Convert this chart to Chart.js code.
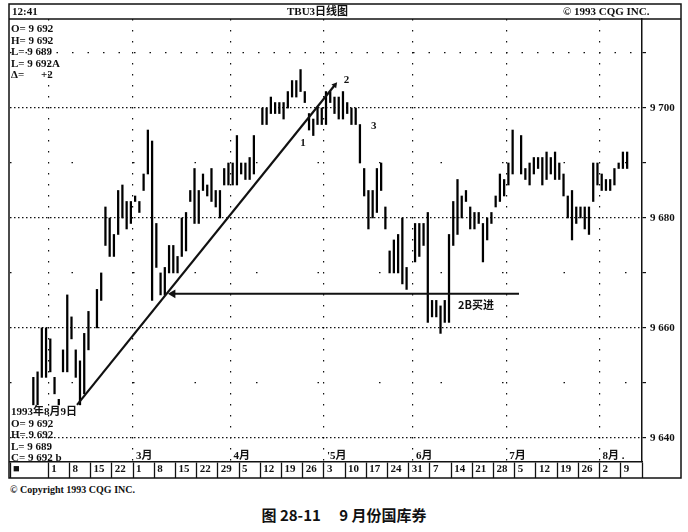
<!DOCTYPE html>
<html>
<head>
<meta charset="utf-8">
<script src="https://cdn.jsdelivr.net/npm/chart.js@4.4.0/dist/chart.umd.min.js"></script>
<style>
  body { margin: 0; background: #fff; }
  #wrap { position: relative; width: 688px; height: 532px; }
  #copy { position: absolute; left: 10px; top: 484px; font: bold 10px "Liberation Serif", serif; color: #111; }
  #cap { position: absolute; left: 0; width: 688px; top: 504px; text-align: center; font: bold 15px "Noto Sans CJK SC", sans-serif; color: #111; white-space: pre; }
</style>
</head>
<body>
<div id="wrap">
  <canvas id="chart" width="688" height="480"></canvas>
  <div id="copy">© Copyright 1993 CQG INC.</div>
  <div id="cap">图 28-11　 9 月份国库券</div>
</div>
<script>
// trading day index, 0 = 1993-02-01 (holidays left as gaps)
const days = [
  -4, -3, -2, -1, 0, 1, 2, 3, 4, 5, 6, 7, 8, 9,
  11, 12, 13, 14, 15, 16, 17, 18, 19, 20, 21, 22, 23, 24, 25, 26, 27, 28, 29,
  30, 31, 32, 33, 34, 35, 36, 37, 38, 39, 40, 41, 42, 43, 44, 45, 46, 47, 48,
  50, 51, 52, 53, 54, 55, 56, 57, 58, 59, 60, 61, 62, 63, 64, 65, 66, 67, 68, 69,
  70, 71, 72, 73, 74, 75, 76, 77, 78, 79, 80, 81, 82, 83, 84,
  86, 87, 88, 89, 90, 91, 92, 93, 94, 95, 96, 97, 98, 99, 100, 101, 102, 103, 104,
  105, 106, 107, 108, 109,
  111, 112, 113, 114, 115, 116, 117, 118, 119, 120, 121, 122, 123, 124, 125, 126,
  127, 128, 129, 130, 131, 132, 133, 134, 135, 136
];
const highs = [
  9651, 9652, 9660, 9660, 9658, 9651, 9647, 9656, 9666, 9662, 9656, 9654, 9659, 9663,
  9667, 9670, 9682, 9680, 9677, 9685, 9686, 9683, 9683, 9684, 9683, 9688, 9696, 9694, 9679, 9670, 9671, 9675, 9675,
  9673, 9680, 9681, 9685, 9689, 9685, 9688, 9686, 9689, 9685, 9685, 9689, 9690, 9690, 9695, 9690, 9690, 9691, 9695,
  9700, 9700, 9702, 9701, 9701, 9701, 9703, 9705, 9705, 9707, 9703, 9699, 9698, 9700, 9700, 9703, 9703, 9702, 9702, 9703,
  9701, 9700, 9700, 9697, 9689, 9685, 9685, 9689, 9690, 9682, 9674, 9676, 9677, 9680, 9671,
  9679, 9679, 9679, 9681, 9665, 9665, 9664, 9665, 9677, 9683, 9687, 9684, 9685, 9682, 9681, 9681, 9679, 9680, 9681,
  9684, 9688, 9687, 9690, 9696,
  9695, 9689, 9690, 9691, 9691, 9691, 9692, 9691, 9692, 9690, 9688, 9684, 9685, 9682, 9682, 9682,
  9682, 9690, 9690, 9688, 9687, 9687, 9689, 9690, 9692, 9692
];
const lows = [
  9646, 9646, 9651, 9651, 9652, 9648, 9646, 9652, 9652, 9658, 9651, 9646, 9648, 9656,
  9660, 9665, 9675, 9673, 9673, 9677, 9680, 9678, 9679, 9683, 9681, 9685, 9688, 9665, 9671, 9666, 9666, 9670, 9670,
  9670, 9673, 9674, 9683, 9679, 9679, 9685, 9684, 9683, 9682, 9680, 9686, 9686, 9686, 9686, 9688, 9687, 9687, 9688,
  9697, 9697, 9699, 9699, 9699, 9698, 9700, 9702, 9702, 9703, 9701, 9696, 9695, 9697, 9697, 9697, 9701, 9699, 9698, 9698,
  9699, 9697, 9697, 9690, 9684, 9678, 9680, 9681, 9685, 9678, 9670, 9670, 9670, 9668, 9667,
  9672, 9673, 9675, 9661, 9662, 9662, 9659, 9661, 9661, 9675, 9677, 9680, 9683, 9678, 9678, 9679, 9672, 9676, 9679,
  9682, 9683, 9684, 9686, 9688,
  9688, 9687, 9686, 9688, 9689, 9686, 9687, 9688, 9687, 9687, 9684, 9680, 9676, 9679, 9680, 9678,
  9677, 9683, 9686, 9685, 9685, 9685, 9686, 9689, 9689, 9689
];

// week boxes along the bottom
const weekTicks = [-9.5, -0.5, 4.5, 9.5, 14.5, 19.5, 24.5, 29.5, 34.5, 39.5, 44.5, 49.5, 54.5, 59.5,
  64.5, 69.5, 74.5, 79.5, 84.5, 89.5, 94.5, 99.5, 104.5, 109.5, 114.5, 119.5, 124.5, 129.5, 134.5, 139.5];
const weekLabels = ['■', '1', '8', '15', '22', '1', '8', '15', '22', '29', '5', '12', '19', '26',
  '3', '10', '17', '24', '31', '7', '14', '21', '28', '5', '12', '19', '26', '2', '9', ''];

// month separators and names
const monthTicks = [-0.5, 19.5, 42.5, 64.5, 85.5, 107.5, 129.5];
const monthLabels = ['', '3月', '4月', "'5月", '6月', '7月', '8月 .'];

const yTicks = [9640, 9650, 9660, 9670, 9680, 9690, 9700, 9710];

// trend line and 2B arrow
const trendX = [6.3, 67.1];
const trendY = [9646, 9704.2];
const arrowX = [28.9, 110.5];
const arrowY = [9666.2, 9666.2];

// chart notes
const noteText = ['1', '2', '3', '2B买进'];
const noteX = [58.9, 69.2, 75.6, 96.1];
const noteY = [9693.6, 9705.1, 9696.7, 9664.2];

const topInfo = ['O= 9 692', 'H= 9 692', 'L= 9 689', 'L= 9 692A'];
const bottomInfo = ['1993年8月9日', 'O= 9 692', 'H= 9 692', 'L= 9 689', 'C= 9 692 b'];

const INK = '#111';
const SERIF = '"Liberation Serif", "Noto Sans CJK SC", serif';

const fmt = v => String(v).replace(/(\d)(\d{3})$/, '$1 $2');

const textPlugin = {
  id: 'texts',
  afterDraw(chart) {
    const ctx = chart.ctx;
    const xs = chart.scales.x, ys = chart.scales.y;
    ctx.save();
    // frame + header line
    ctx.strokeStyle = INK;
    ctx.lineWidth = 1.5;
    ctx.strokeRect(9, 4, 672, 474);
    ctx.beginPath();
    ctx.moveTo(9, 19); ctx.lineTo(681, 19);
    ctx.stroke();

    ctx.fillStyle = INK;
    ctx.textBaseline = 'alphabetic';
    ctx.textAlign = 'left';
    ctx.font = 'bold 11px ' + SERIF;
    ctx.fillText('12:41', 12, 15);
    ctx.fillText('TBU3日线图', 287, 15);
    ctx.fillText('© 1993 CQG INC.', 563, 15);

    topInfo.forEach((t, k) => ctx.fillText(t, 11, 32 + k * 11.5));
    ctx.fillText('Δ=', 11, 78);
    ctx.fillText('+2', 41, 78);

    bottomInfo.forEach((t, k) => ctx.fillText(t, 11, 415 + k * 11.5));

    // month names
    monthLabels.forEach((t, k) => {
      if (t) ctx.fillText(t, xs.getPixelForValue(monthTicks[k]) + 3, 459);
    });

    // notes
    noteText.forEach((t, k) => {
      ctx.font = (t.length > 1 ? 'bold 11px "Noto Sans CJK SC", sans-serif' : 'bold 11px ' + SERIF);
      ctx.textBaseline = 'middle';
      ctx.fillText(t, xs.getPixelForValue(noteX[k]), ys.getPixelForValue(noteY[k]));
    });
    ctx.restore();
  }
};

new Chart(document.getElementById('chart'), {
  type: 'bar',
  data: {
    datasets: [
      {
        type: 'bar',
        data: days.map((d, k) => ({ x: d, y: [lows[k], highs[k]] })),
        backgroundColor: '#000',
        barThickness: 1.6,
        order: 3
      },
      {
        type: 'line',
        data: trendX.map((v, k) => ({ x: v, y: trendY[k] })),
        borderColor: INK,
        borderWidth: 2.2,
        pointStyle: 'triangle',
        pointRadius: [0, 3.5],
        rotation: 39,
        pointBackgroundColor: INK,
        pointBorderWidth: 0,
        order: 1
      },
      {
        type: 'line',
        data: arrowX.map((v, k) => ({ x: v, y: arrowY[k] })),
        borderColor: INK,
        borderWidth: 2,
        pointStyle: 'triangle',
        pointRadius: [5, 0],
        rotation: -90,
        pointBackgroundColor: INK,
        pointBorderWidth: 0,
        order: 1
      }
    ]
  },
  options: {
    responsive: false,
    animation: false,
    layout: { padding: { left: 10, top: 19, right: 7, bottom: 2 } },
    plugins: { legend: { display: false }, tooltip: { enabled: false } },
    scales: {
      xm: {
        type: 'linear',
        position: 'bottom',
        weight: 0,
        min: -9.5,
        max: 139.5,
        offset: false,
        afterBuildTicks: s => { s.ticks = monthTicks.map(v => ({ value: v })); },
        afterFit: s => { s.height = 0; },
        ticks: { display: false },
        grid: { color: INK, lineWidth: 1.2, drawTicks: false, offset: false },
        border: { display: false, dash: [1.5, 9.5] }
      },
      x: {
        type: 'linear',
        position: 'bottom',
        weight: 1,
        min: -9.5,
        max: 139.5,
        offset: false,
        afterBuildTicks: s => { s.ticks = weekTicks.map(v => ({ value: v })); },
        afterFit: s => { s.height = 16; },
        ticks: {
          autoSkip: false,
          maxRotation: 0,
          align: 'start',
          labelOffset: 3,
          padding: -15,
          color: INK,
          font: { family: SERIF, size: 11, weight: 'bold' },
          callback: (v, i) => weekLabels[i]
        },
        grid: { drawOnChartArea: false, tickLength: 16, tickColor: INK, tickWidth: 1.3, offset: false },
        border: { color: INK, width: 1.5 }
      },
      y: {
        type: 'linear',
        position: 'right',
        min: 9635.6,
        max: 9716.2,
        afterBuildTicks: s => { s.ticks = yTicks.map(v => ({ value: v })); },
        afterFit: s => { s.width = 39; },
        ticks: {
          color: INK,
          padding: 4,
          font: { family: SERIF, size: 11, weight: 'bold' },
          callback: v => (v % 20 === 0 && v <= 9700) ? fmt(v) : ''
        },
        grid: { color: INK, lineWidth: 1.2, tickLength: 4, tickColor: INK },
        border: {
          color: INK,
          width: 1.5,
          dash: c => {
            const v = c.tick && c.tick.value;
            if (v === undefined) return [];
            if (v % 20 === 0) return [1.5, 2.5];
            if (v === 9710) return [1.5, 14];
            return [1.5, 60];
          }
        }
      }
    }
  },
  plugins: [textPlugin]
});
</script>
</body>
</html>
